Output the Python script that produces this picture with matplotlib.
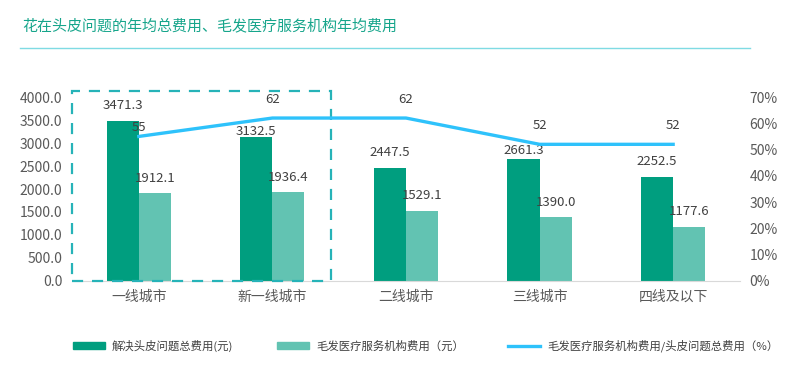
import matplotlib
matplotlib.use("Agg")
import matplotlib.pyplot as plt
from matplotlib.patches import Rectangle
from matplotlib.lines import Line2D
import numpy as np

plt.rcParams['font.family'] = ['Noto Sans CJK SC', 'DejaVu Sans']

categories = ["一线城市", "新一线城市", "二线城市", "三线城市", "四线及以下"]
total_cost = [3471.3, 3132.5, 2447.5, 2661.3, 2252.5]
clinic_cost = [1912.1, 1936.4, 1529.1, 1390.0, 1177.6]
ratio_pct = [55, 62, 62, 52, 52]

title = "花在头皮问题的年均总费用、毛发医疗服务机构年均费用"
legend_labels = ["解决头皮问题总费用(元)", "毛发医疗服务机构费用（元）",
                 "毛发医疗服务机构费用/头皮问题总费用（%）"]

dark = "#009e7f"
light = "#62c3b2"
blue = "#2ec2fb"
gray = "#595959"

fig = plt.figure(figsize=(7.88, 3.69), dpi=100)
ax = fig.add_axes([0.0914, 0.2385, 0.8476, 0.4986])
ax2 = ax.twinx()

x = np.arange(len(categories))
w = 0.24
ax.bar(x - w / 2, total_cost, w, color=dark)
ax.bar(x + w / 2, clinic_cost, w, color=light)

# label lift above bar (points); a couple sit lower in the original layout
lift = [7, -1, 7, 1.5, 7]
for xi, v, off in zip(x, total_cost, lift):
    ax.annotate(f"{v:.1f}", (xi - w / 2, v), xytext=(0, off), textcoords="offset points",
                ha="center", va="bottom", fontsize=9.5, color="#404040")
for xi, v in zip(x, clinic_cost):
    ax.annotate(f"{v:.1f}", (xi + w / 2, v), xytext=(0, 6), textcoords="offset points",
                ha="center", va="bottom", fontsize=9.5, color="#404040")

ax.set_ylim(0, 4000)
ax.set_yticks(np.arange(0, 4001, 500))
ax.set_yticklabels([f"{t:.1f}" for t in np.arange(0, 4001, 500)])
ax.set_xlim(-0.5, 4.5)
ax.set_xticks(x)
ax.set_xticklabels(categories)

ax2.plot(x, ratio_pct, color=blue, lw=2.4, solid_joinstyle="round")
for i, (xi, v) in enumerate(zip(x, ratio_pct)):
    off = 2 if i == 0 else 9
    ax2.annotate(str(v), (xi, v), xytext=(0, off), textcoords="offset points",
                 ha="center", va="bottom", fontsize=9.5, color="#404040")
ax2.set_ylim(0, 70)
ax2.set_yticks(range(0, 71, 10))
ax2.set_yticklabels([f"{t}%" for t in range(0, 71, 10)])

for a in (ax, ax2):
    for s in a.spines.values():
        s.set_visible(False)
    a.tick_params(length=0, labelsize=10, colors=gray, pad=7)
ax.spines["bottom"].set_visible(True)
ax.spines["bottom"].set_color("#d9d9d9")
ax.tick_params(axis="x", pad=6)

# dashed highlight box around first two groups
ax.add_patch(Rectangle((-0.5, 0), 1.94, 4130, fill=False, ec="#26b3b8",
                       lw=1.6, ls=(0, (5, 4)), clip_on=False, zorder=5))

fig.text(0.028, 0.93, title, fontsize=10.8, color="#16a58b", va="center")
fig.add_artist(Line2D([0.025, 0.952], [0.87, 0.87], color="#7fdbe3", lw=1))

handles = [Rectangle((0, 0), 1, 1, color=dark), Rectangle((0, 0), 1, 1, color=light),
           Line2D([0], [0], color=blue, lw=2.4)]
fig.legend(handles, legend_labels, loc="center", bbox_to_anchor=(0.540, 0.062), ncol=3,
           frameon=False, fontsize=8.2, handlelength=2.8, handleheight=0.6,
           handletextpad=0.6, columnspacing=3.9, labelcolor="#404040")

fig.savefig("out.png", dpi=100)
